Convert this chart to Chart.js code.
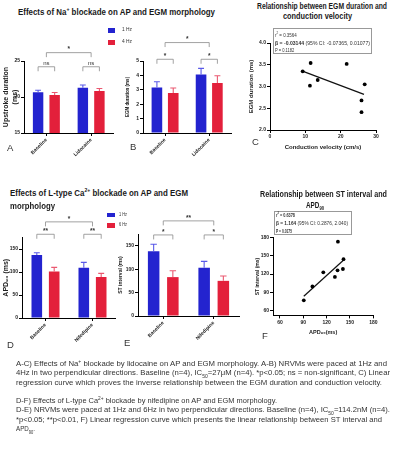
<!DOCTYPE html>
<html>
<head>
<meta charset="utf-8">
<script src="https://cdn.jsdelivr.net/npm/chart.js@4.4.0/dist/chart.umd.min.js"></script>
<style>
body { margin: 0; background: #fff; font-family: "Liberation Sans", Arial, sans-serif; }
#fig { position: relative; width: 394px; height: 453px; overflow: hidden; }
canvas { position: absolute; }
.t { position: absolute; white-space: nowrap; line-height: 1; transform-origin: 0 50%; color: #222; }
.t sup, .t sub { font-size: 65%; line-height: 0; }
.ttl { font-weight: bold; font-size: 9px; color: #1a1a1a; }
.cap { font-size: 7.3px; color: #333; }
.leg { font-size: 5.5px; color: #333; }
.let { font-size: 9.5px; color: #333; }
.st { font-size: 5px; color: #333; }
.sq { position: absolute; width: 8px; height: 4.5px; }
.box { position: absolute; border: 1px solid #999; box-sizing: border-box; }
</style>
</head>
<body>
<div id="fig">
  <canvas id="cA" width="118" height="135" style="left:0px;top:30px"></canvas>
  <canvas id="cB" width="120" height="135" style="left:118px;top:30px"></canvas>
  <canvas id="cC" width="150" height="126" style="left:240px;top:25px"></canvas>
  <canvas id="cD" width="116" height="145" style="left:0px;top:205px"></canvas>
  <canvas id="cE" width="126" height="145" style="left:116px;top:205px"></canvas>
  <canvas id="cF" width="145" height="131" style="left:245px;top:205px"></canvas>
</div>
<script>
// ---- dados ----
const catsNa = ['Baseline', 'Lidocaine'];
const upstroke1Hz = [20.65, 21.27];
const upstroke1HzErr = [0.28, 0.40];
const upstroke4Hz = [20.28, 20.85];
const upstroke4HzErr = [0.35, 0.33];
const ticksUpstroke = [15, 20, 25];

const egm1Hz = [3.16, 4.07];
const egm1HzErr = [0.40, 0.42];
const egm4Hz = [2.77, 3.47];
const egm4HzErr = [0.35, 0.51];
const ticksEgm = [0, 1, 2, 3, 4, 5];

const cvVelocity = [9.25, 11.5, 11.3, 13.5, 21.7, 26.8, 25.9, 25.9];
const cvEgm = [3.35, 3.54, 3.02, 3.15, 3.52, 3.05, 2.68, 2.41];
const cvFitX = [9.0, 26.6];
const cvFitY = [3.36, 2.82];
const ticksCvX = [0, 10, 20, 30];
const ticksCvY = [2.0, 2.5, 3.0, 3.5, 4.0];

const catsCa = ['Baseline', 'Nifedipine'];
const apd1Hz = [137, 109];
const apd1HzErr = [5, 12];
const apd6Hz = [101, 89];
const apd6HzErr = [9, 8];
const ticksApd = [0, 50, 100, 150];

const st1Hz = [138, 103];
const st1HzErr = [15, 13.5];
const st6Hz = [83, 75];
const st6HzErr = [13.5, 10.5];
const ticksSt = [0, 50, 100, 150];

const fApd = [90.6, 101.7, 115.7, 130.6, 134.0, 134.5, 140.9, 141.7];
const fSt = [76.8, 99.6, 123.0, 115.4, 126.2, 173.5, 128.4, 144.7];
const fFitX = [90.6, 142.6];
const fFitY = [83.5, 144.0];
const ticksF = [60, 90, 120, 150, 180];

// brackets de significância: [categoria, dataset] ou [categoria] = centro do grupo
const sigA = [
  { a: [0], b: [1], y: 26.16, text: '*' },
  { a: [0, 0], b: [0, 1], y: 24.2, text: 'ns' },
  { a: [1, 0], b: [1, 1], y: 24.2, text: 'ns' }
];
const sigB = [
  { a: [0], b: [1], y: 6.28, text: '*' },
  { a: [0, 0], b: [0, 1], y: 5.12, text: '*' },
  { a: [1, 0], b: [1, 1], y: 5.12, text: '*' }
];
const sigD = [
  { a: [0], b: [1], y: 209, text: '*' },
  { a: [0, 0], b: [0, 1], y: 182, text: '**' },
  { a: [1, 0], b: [1, 1], y: 182, text: '**' }
];
const sigE = [
  { a: [0], b: [1], y: 203, text: '**' },
  { a: [0, 0], b: [0, 1], y: 173, text: '*' },
  { a: [1, 0], b: [1, 1], y: 173, text: '*' }
];

const BLUE = '#2323cf', RED = '#e3203b';
const BLUE_ERR = '#5a5ae8', RED_ERR = '#ea5870';

Chart.defaults.font.family = '"Liberation Sans", Arial, sans-serif';
Chart.defaults.color = '#222';

function refX(chart, r) {
  if (r.length === 2) return chart.getDatasetMeta(r[1]).data[r[0]].x;
  const xs = chart.data.datasets.map((d, i) => chart.getDatasetMeta(i).data[r[0]].x);
  return xs.reduce((s, v) => s + v, 0) / xs.length;
}

// barras de erro + brackets
const sigPlugin = {
  id: 'sig',
  afterDatasetsDraw(chart, args, opts) {
    const ctx = chart.ctx, ys = chart.scales.y;
    ctx.save();
    chart.data.datasets.forEach((ds, i) => {
      if (!ds.err) return;
      chart.getDatasetMeta(i).data.forEach((bar, j) => {
        const top = ys.getPixelForValue(ds.data[j] + ds.err[j]);
        const cap = bar.width * 0.28;
        ctx.strokeStyle = ds.errColor;
        ctx.lineWidth = 1.1;
        ctx.beginPath();
        ctx.moveTo(bar.x, bar.y);
        ctx.lineTo(bar.x, top);
        ctx.moveTo(bar.x - cap, top);
        ctx.lineTo(bar.x + cap, top);
        ctx.stroke();
      });
    });
    (opts.brackets || []).forEach(b => {
      const x1 = refX(chart, b.a), x2 = refX(chart, b.b);
      const y = ys.getPixelForValue(b.y);
      ctx.strokeStyle = '#8a8a8a';
      ctx.lineWidth = 0.8;
      ctx.beginPath();
      ctx.moveTo(x1, y + 4.5);
      ctx.lineTo(x1, y);
      ctx.lineTo(x2, y);
      ctx.lineTo(x2, y + 4.5);
      ctx.stroke();
      ctx.fillStyle = '#333';
      ctx.font = (b.text === 'ns' ? '6px' : 'bold 6.5px') + ' "Liberation Sans", Arial, sans-serif';
      ctx.textAlign = 'center';
      ctx.textBaseline = b.text === 'ns' ? 'bottom' : 'middle';
      ctx.fillText(b.text, (x1 + x2) / 2, b.text === 'ns' ? y - 0.5 : y - 3);
    });
    ctx.restore();
  }
};

function axisGrid() {
  return { drawOnChartArea: false, tickLength: 3, color: '#000', lineWidth: 1 };
}

function makeBar(id, o) {
  return new Chart(document.getElementById(id), {
    type: 'bar',
    data: {
      labels: o.cats,
      datasets: [
        { data: o.s1, err: o.e1, errColor: BLUE_ERR, backgroundColor: BLUE, categoryPercentage: o.cat, barPercentage: o.bar },
        { data: o.s2, err: o.e2, errColor: RED_ERR, backgroundColor: RED, categoryPercentage: o.cat, barPercentage: o.bar }
      ]
    },
    options: {
      responsive: false,
      animation: false,
      layout: { padding: { top: o.pt, right: o.pr, left: 0, bottom: 0 } },
      plugins: { legend: { display: false }, tooltip: { enabled: false }, sig: { brackets: o.brackets } },
      scales: {
        x: {
          grid: Object.assign(axisGrid(), { offset: false }),
          border: { color: '#000', width: 1 },
          ticks: { minRotation: 45, maxRotation: 45, autoSkip: false, padding: 1, font: { size: 5, weight: 'bold' } },
          afterFit: s => { s.height = o.xh; }
        },
        y: {
          min: o.min, max: o.max,
          grid: axisGrid(),
          border: { color: '#000', width: 1 },
          ticks: { padding: 1, font: { size: 5, weight: 'bold' } },
          afterBuildTicks: s => { s.ticks = o.yticks.map(v => ({ value: v })); },
          title: { display: true, text: o.ytitle, font: { size: o.ytsize, weight: 'bold' }, color: '#222', padding: { top: o.ytpad, bottom: 0 } },
          afterFit: s => { s.width = o.yw; }
        }
      }
    },
    plugins: [sigPlugin]
  });
}

function makeScatter(id, o) {
  return new Chart(document.getElementById(id), {
    type: 'scatter',
    data: {
      datasets: [
        { data: o.xs.map((x, i) => ({ x: x, y: o.ys[i] })), backgroundColor: '#000', borderWidth: 0, pointRadius: 1.9 },
        { type: 'line', data: o.fx.map((x, i) => ({ x: x, y: o.fy[i] })), borderColor: '#111', borderWidth: 1.2, pointRadius: 0, fill: false }
      ]
    },
    options: {
      responsive: false,
      animation: false,
      layout: { padding: { top: o.pt, right: o.pr, left: 0, bottom: 0 } },
      plugins: { legend: { display: false }, tooltip: { enabled: false } },
      scales: {
        x: {
          type: 'linear', min: o.xmin, max: o.xmax,
          grid: axisGrid(),
          border: { color: '#000', width: 1 },
          ticks: { padding: 1, font: { size: 5, weight: 'bold' }, maxRotation: 0 },
          afterBuildTicks: s => { s.ticks = o.xticks.map(v => ({ value: v })); },
          title: { display: true, text: o.xtitle, font: { size: o.xtsize, weight: 'bold' }, color: '#222', padding: 0 },
          afterFit: s => { s.height = o.xh; }
        },
        y: {
          min: o.ymin, max: o.ymax,
          grid: axisGrid(),
          border: { color: '#000', width: 1 },
          ticks: { padding: 1, font: { size: 5, weight: 'bold' }, callback: o.yfmt },
          afterBuildTicks: s => { s.ticks = o.yticks.map(v => ({ value: v })); },
          title: { display: true, text: o.ytitle, font: { size: o.ytsize, weight: 'bold' }, color: '#222', padding: { top: o.ytpad, bottom: 0 } },
          afterFit: s => { s.width = o.yw; }
        }
      }
    }
  });
}

makeBar('cA', {
  cats: catsNa, s1: upstroke1Hz, e1: upstroke1HzErr, s2: upstroke4Hz, e2: upstroke4HzErr,
  min: 15, max: 25, yticks: ticksUpstroke, ytitle: ['Upstroke duration', '(ms)'], ytsize: 7, ytpad: 2,
  yw: 24, xh: 32, pt: 31, pr: 4.5, cat: 0.74, bar: 0.63, brackets: sigA
});
makeBar('cB', {
  cats: catsNa, s1: egm1Hz, e1: egm1HzErr, s2: egm4Hz, e2: egm4HzErr,
  min: 0, max: 5, yticks: ticksEgm, ytitle: 'EGM duration (ms)', ytsize: 4.5, ytpad: 7,
  yw: 25, xh: 32, pt: 31, pr: 6.7, cat: 0.74, bar: 0.65, brackets: sigB
});
makeScatter('cC', {
  xs: cvVelocity, ys: cvEgm, fx: cvFitX, fy: cvFitY,
  xmin: 0, xmax: 30, xticks: ticksCvX, ymin: 2, ymax: 4, yticks: ticksCvY, yfmt: v => v.toFixed(1),
  xtitle: 'Conduction velocity (cm/s)', xtsize: 6, ytitle: 'EGM duration (ms)', ytsize: 6, ytpad: 8,
  yw: 30, xh: 21, pt: 18, pr: 14
});
makeBar('cD', {
  cats: catsCa, s1: apd1Hz, e1: apd1HzErr, s2: apd6Hz, e2: apd6HzErr,
  min: 0, max: 175, yticks: ticksApd, ytitle: 'APD₉₀ (ms)', ytsize: 7, ytpad: 2,
  yw: 22, xh: 32, pt: 32.5, pr: 0, cat: 0.74, bar: 0.61, brackets: sigD
});
makeBar('cE', {
  cats: catsCa, s1: st1Hz, e1: st1HzErr, s2: st6Hz, e2: st6HzErr,
  min: 0, max: 175, yticks: ticksSt, ytitle: 'ST interval (ms)', ytsize: 5, ytpad: 2,
  yw: 22, xh: 34, pt: 29, pr: 3, cat: 0.76, bar: 0.6, brackets: sigE
});
makeScatter('cF', {
  xs: fApd, ys: fSt, fx: fFitX, fy: fFitY,
  xmin: 51, xmax: 180, xticks: ticksF, ymin: 52, ymax: 180, yticks: ticksF, yfmt: v => v,
  xtitle: 'APD₉₀(ms)', xtsize: 5.5, ytitle: 'ST interval (ms)', ytsize: 5, ytpad: 10,
  yw: 28, xh: 20.6, pt: 32.7, pr: 16.7
});

// ---- textos (títulos, legendas, letras, legenda da figura) ----
const fig = document.getElementById('fig');

function addText(html, cls, x0, y, x1) {
  const el = document.createElement('div');
  el.className = 't ' + cls;
  el.innerHTML = html;
  el.style.left = x0 + 'px';
  el.style.top = y + 'px';
  fig.appendChild(el);
  let sx = 1;
  if (x1) sx = (x1 - x0) / el.getBoundingClientRect().width;
  el.style.transform = 'translateY(-50%) scaleX(' + sx + ')';
}

function addBox(cls, x, y, w, h, color) {
  const el = document.createElement('div');
  el.className = cls;
  el.style.left = x + 'px';
  el.style.top = y + 'px';
  if (w) el.style.width = w + 'px';
  if (h) el.style.height = h + 'px';
  if (color) el.style.background = color;
  fig.appendChild(el);
}

addText('Effects of Na<sup>+</sup> blockade on AP and EGM morphology', 'ttl', 18, 12, 215);
addText('Relationship between EGM duration and', 'ttl', 257, 5.5, 387);
addText('conduction velocity', 'ttl', 283, 15.5, 352);
addText('Effects of L-type Ca<sup>2+</sup> blockade on AP and EGM', 'ttl', 10, 193, 188);
addText('morphology', 'ttl', 10, 206, 55);
addText('Relationship between ST interval and', 'ttl', 260, 194, 387);
addText('APD<sub>90</sub>', 'ttl', 306, 205, 324);

addBox('sq', 108, 28, 7, 4.5, BLUE);
addText('1 Hz', 'leg', 122, 30.3, 132);
addBox('sq', 108, 40, 7, 4.5, RED);
addText('4 Hz', 'leg', 122, 42.3, 132);
addBox('sq', 107, 212.7, 8, 4.5, BLUE);
addText('1 Hz', 'leg', 118.5, 215, 126.5);
addBox('sq', 107, 223, 8, 4.5, RED);
addText('6 Hz', 'leg', 118.5, 225.3, 126.5);

addBox('box', 272.7, 28.3, 99, 25.5);
addText('r<sup>2</sup> = 0.3564', 'st', 275, 34.7, 296.7);
addText('<b>β = -0.03144</b> (95% CI: -0.07365, 0.01077)', 'st', 275, 42.5, 370);
addText('P = 0.1182', 'st', 275, 50, 294.3);
addBox('box', 274, 210.7, 78, 24.5);
addText('<b>r<sup>2</sup> = 0.6378</b>', 'st', 276, 215.2, 295);
addText('<b>β = 1.164</b> (95% CI: 0.2876, 2.040)', 'st', 276, 223.3, 348);
addText('<b>P = 0.0175</b>', 'st', 276, 231, 292);

addText('A', 'let', 7, 148);
addText('B', 'let', 130, 147);
addText('C', 'let', 252, 142);
addText('D', 'let', 7, 345);
addText('E', 'let', 124, 343);
addText('F', 'let', 262, 336);

addText('A-C) Effects of Na<sup>+</sup> blockade by lidocaine on AP and EGM morphology. A-B) NRVMs were paced at 1Hz and', 'cap', 16, 364, 387);
addText('4Hz in two perpendicular directions. Baseline (n=4), IC<sub>50</sub>=27μM (n=4). *p&lt;0.05; ns = non-significant, C) Linear', 'cap', 16, 373.3, 390);
addText('regression curve which proves the inverse relationship between the EGM duration and conduction velocity.', 'cap', 16, 382.7, 382);
addText('D-F) Effects of L-type Ca<sup>2+</sup> blockade by nifedipine on AP and EGM morphology.', 'cap', 16, 401, 277);
addText('D-E) NRVMs were paced at 1Hz and 6Hz in two perpendicular directions. Baseline (n=4), IC<sub>50</sub>=114.2nM (n=4).', 'cap', 16, 410.3, 390);
addText('*p&lt;0.05; **p&lt;0.01, F) Linear regression curve which presents the linear relationship between ST interval and', 'cap', 16, 420, 382);
addText('APD<sub>90</sub>.', 'cap', 16, 428.7, 35);
</script>
</body>
</html>
